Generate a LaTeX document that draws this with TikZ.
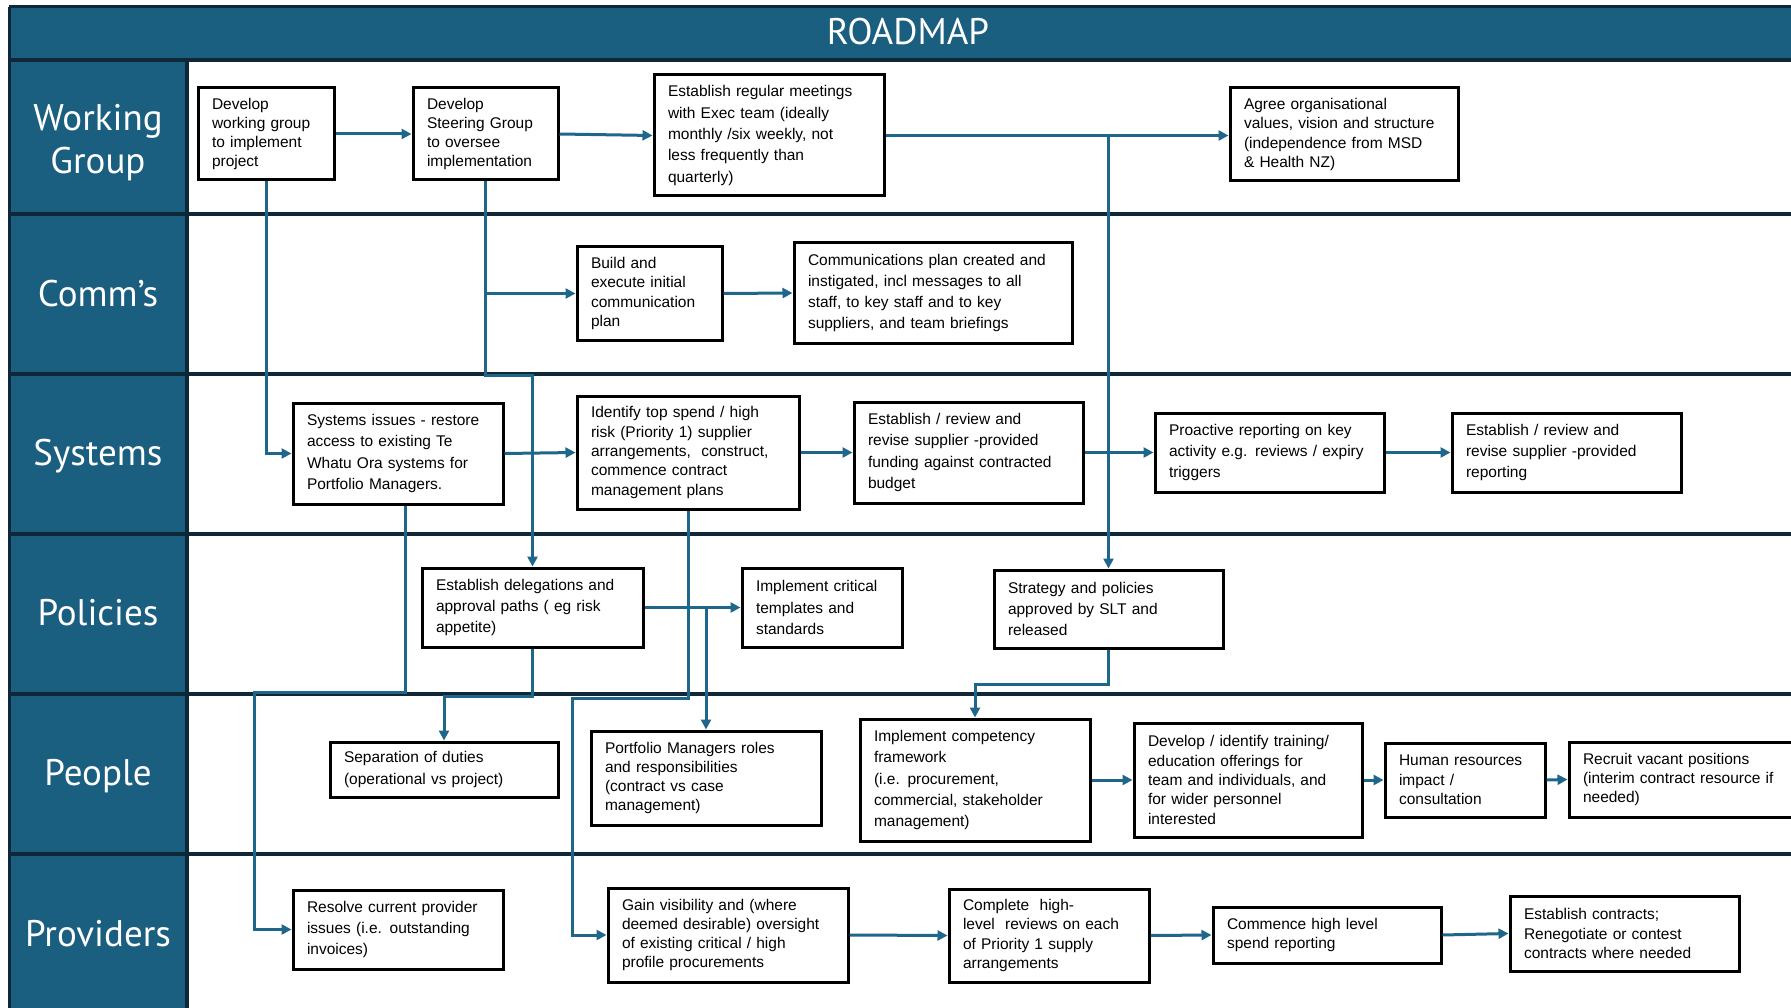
\documentclass[tikz,border=0pt]{standalone}
\usepackage{fontspec}
\setmainfont{Liberation Sans}
\newfontfamily\lanefont{PT Sans}
\usetikzlibrary{arrows.meta,calc}
\definecolor{tealbg}{RGB}{26,94,128}
\definecolor{navy}{RGB}{14,40,58}
\definecolor{conn}{RGB}{30,102,138}
\newcommand\bx[7][]{%
  \pgfmathsetmacro\bxw{#5-#3}%
  \pgfmathsetmacro\bxh{#6-#4}%
  \pgfmathsetmacro\bxt{#5-#3-28}%
  \node[box,#1,minimum width=\bxw pt,minimum height=\bxh pt,text width=\bxt pt] (#2) at ({(#3+#5)/2},{(#4+#6)/2}) {#7};}
\begin{document}
\begin{tikzpicture}[x=1pt,y=-1pt,
  box/.style={draw=black,line width=3pt,fill=white,inner xsep=14pt,inner ysep=0pt,align=left,font=\fontsize{15.5}{21.3}\selectfont},
  tight/.style={font=\fontsize{15.5}{19.3}\selectfont},
  lane/.style={text=white,font=\lanefont\fontsize{37}{43}\selectfont,align=center},
  arr/.style={draw=conn,line width=3pt,-{Triangle[length=10pt,width=10pt]}},
  sep/.style={draw=navy,line width=4.5pt}]
\useasboundingbox (0,0) rectangle (1791,1008);
\fill[white] (0,0) rectangle (1791,1008);
% frame
\fill[tealbg] (9,7) rectangle (1800,60);
\fill[tealbg] (9,60) rectangle (187,1010);
\draw[navy,line width=3pt] (9,7) -- (1800,7);
\draw[navy,line width=3pt] (9,7) -- (9,1010);
\foreach \yy in {60,214,374,534,694,854} \draw[sep] (9,\yy) -- (1800,\yy);
\draw[sep] (187,60) -- (187,1010);
% titles
\node[lane,anchor=base] (title) at (908,45) {ROADMAP};
\node[lane] (lwg) at (98,143) {Working\\Group};
\node[lane,anchor=base] (lcm) at (98,306) {Comm’s};
\node[lane,anchor=base] (lsy) at (98,465) {Systems};
\node[lane,anchor=base] (lpo) at (98,625) {Policies};
\node[lane,anchor=base] (lpe) at (98,785) {People};
\node[lane,anchor=base] (lpr) at (98,946) {Providers};
% coordinates for routing
\coordinate (t1) at (254,692);
\coordinate (t2) at (572,698);
% boxes
\bx[tight]{WG1}{198}{88}{334}{180}{Develop\\working group\\to implement\\project}
\bx[tight]{WG2}{413}{88}{558}{180}{Develop\\Steering Group\\to oversee\\implementation}
\bx{WG3}{654}{75}{884}{196}{Establish regular meetings\\with Exec team (ideally\\monthly /six weekly, not\\less frequently than\\quarterly)}
\bx[tight]{WG4}{1230}{88}{1458}{181}{Agree organisational\\values, vision and structure\\(independence from MSD\\\& Health NZ)}
\bx[tight]{C1}{577}{247}{722}{340}{Build and\\execute initial\\communication\\plan}
\bx{C2}{794}{243}{1072}{343}{Communications plan created and\\instigated, incl messages to all\\staff, to key staff and to key\\suppliers, and team briefings}
\bx{S1}{293}{403}{503}{504}{Systems issues - restore\\access to existing Te\\Whatu Ora systems for\\Portfolio Managers.}
\bx[tight]{S2}{577}{396}{799}{509}{Identify top spend / high\\risk (Priority 1) supplier\\arrangements,~ construct,\\commence contract\\management plans}
\bx{S3}{854}{402}{1083}{503}{Establish / review and\\revise supplier -provided\\funding against contracted\\budget}
\bx{S4}{1155}{413}{1384}{492}{Proactive reporting on key\\activity e.g. reviews / expiry\\triggers}
\bx{S5}{1452}{413}{1681}{492}{Establish / review and\\revise supplier -provided\\reporting}
\bx{P1}{422}{568}{643}{647}{Establish delegations and\\approval paths ( eg risk\\appetite)}
\bx{P2}{742}{568}{902}{647}{Implement critical\\templates and\\standards}
\bx{P3}{994}{570}{1223}{648}{Strategy and policies\\approved by SLT and\\released}
\bx{PE1}{330}{742}{558}{797}{Separation of duties\\(operational vs project)}
\bx[tight]{PE2}{591}{731}{821}{825}{Portfolio Managers roles\\and responsibilities\\(contract vs case\\management)}
\bx{PE3}{860}{719}{1090}{841}{Implement competency\\framework\\(i.e. procurement,\\commercial, stakeholder\\management)}
\bx[tight]{PE4}{1134}{723}{1362}{837}{Develop / identify training/\\education offerings for\\team and individuals, and\\for wider personnel\\interested}
\bx[tight]{PE5}{1385}{743}{1545}{817}{Human resources\\impact /\\consultation}
\bx[tight]{PE6}{1569}{742}{1800}{817}{Recruit vacant positions\\(interim contract resource if\\needed)}
\bx{PR1}{293}{890}{503}{969}{Resolve current provider\\issues (i.e. outstanding\\invoices)}
\bx[tight]{PR2}{608}{888}{848}{982}{Gain visibility and (where\\deemed desirable) oversight\\of existing critical / high\\profile procurements}
\bx[tight]{PR3}{949}{889}{1149}{982}{Complete~ high-\\level~ reviews on each\\of Priority 1 supply\\arrangements}
\bx[tight]{PR4}{1213}{907}{1441}{963}{Commence high level\\spend reporting}
\bx[tight]{PR5}{1510}{896}{1739}{971}{Establish contracts;\\Renegotiate or contest\\contracts where needed}
% connectors
\draw[arr] (WG1.east) -- (WG2.west);
\draw[arr] (WG2.east) -- (WG3.west);
\draw[arr] (WG3.east) -- (WG3.east -| WG4.west);
\draw[arr] (P3.north |- WG3.east) -- (P3.north);
\draw[arr] (WG1.south) |- (S1.west);
\draw[arr] (WG2.south) -- ++(0,194) -| (P1.north);
\draw[arr] (WG2.south |- C1.west) -- (C1.west);
\draw[arr] (C1.east) -- (C2.west);
\draw[arr] (S1.east) -- (S2.west);
\draw[arr] (S2.east) -- (S3.west);
\draw[arr] (S3.east) -- (S4.west);
\draw[arr] (S4.east) -- (S5.west);
\draw[arr] ($(S1.south)+(7,0)$) |- (t1) |- (PR1.west);
\draw[arr] (S2.south) |- (t2) |- (PR2.west);
\draw[arr] (P1.east) -- (P2.west);
\draw[arr] (PE2.north |- P1.east) -- (PE2.north);
\draw[arr] (P1.south) -- ++(0,48) -| (PE1.north);
\draw[arr] (P3.south) -- ++(0,35) -| (PE3.north);
\draw[arr] (PE3.east) -- (PE4.west);
\draw[arr] (PE4.east) -- (PE5.west);
\draw[arr] (PE5.east) -- (PE6.west);
\draw[arr] (PR2.east) -- (PR3.west);
\draw[arr] (PR3.east) -- (PR4.west);
\draw[arr] (PR4.east) -- (PR5.west);
\end{tikzpicture}
\end{document}
